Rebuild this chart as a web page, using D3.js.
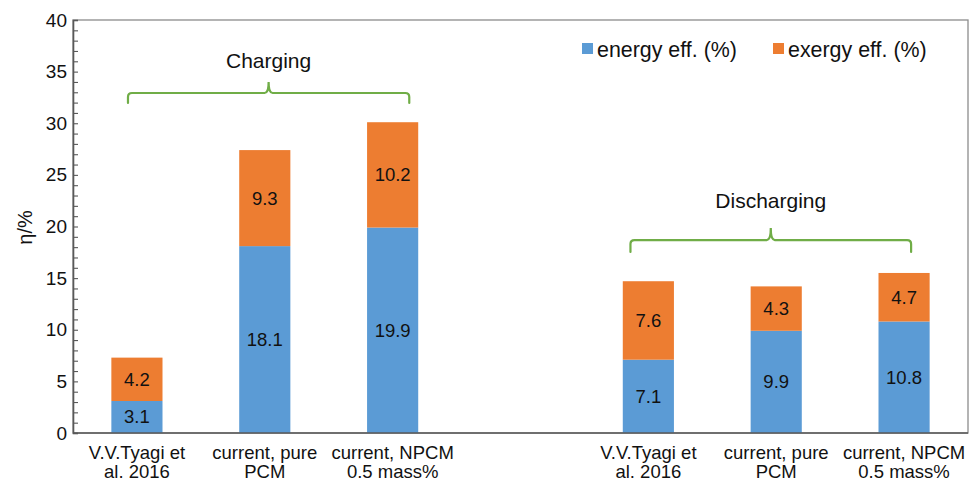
<!DOCTYPE html>
<html>
<head>
<meta charset="utf-8">
<script src="https://cdn.jsdelivr.net/npm/d3@7/dist/d3.min.js"></script>
<style>
  html, body { margin: 0; padding: 0; background: #fff; }
  svg { display: block; font-family: "Liberation Sans", Arial, Helvetica, sans-serif; }
</style>
</head>
<body>
<svg id="chart" width="979" height="482"></svg>
<script>
// Category slots (an empty slot separates the two groups)
const slots = ["tyagiC", "pureC", "npcmC", "gap", "tyagiD", "pureD", "npcmD"];
const barKeys = ["tyagiC", "pureC", "npcmC", "tyagiD", "pureD", "npcmD"];
const categoryLabels = [
  ["V.V.Tyagi et", "al. 2016"],
  ["current, pure", "PCM"],
  ["current, NPCM", "0.5 mass%"],
  ["V.V.Tyagi et", "al. 2016"],
  ["current, pure", "PCM"],
  ["current, NPCM", "0.5 mass%"]
];
const energyEff = [3.1, 18.1, 19.9, 7.1, 9.9, 10.8];
const exergyEff = [4.2, 9.3, 10.2, 7.6, 4.3, 4.7];
const seriesNames = ["energy eff. (%)", "exergy eff. (%)"];
const yTicks = [0, 5, 10, 15, 20, 25, 30, 35, 40];
const groupLabels = ["Charging", "Discharging"];
// brace spans in slot-index units, and brace/label heights in axis units
const braceSpan = [[-0.07, 2.13], [3.86, 6.055]];
const braceLevel = [32.93, 18.69];
const braceEnd = [31.96, 17.53];
const braceTip = [34.0, 19.85];
const groupLabelLevel = [35.35, 21.8];

const colors = ["#5B9BD5", "#ED7D31"];
const green = "#70AD47";

const svg = d3.select("#chart");
const plotL = 73, plotR = 968, plotT = 20, plotB = 433;

const x = d3.scaleBand().domain(slots).range([plotL, plotR]).paddingInner(0.6).paddingOuter(0.3);
const y = d3.scaleLinear().domain([0, 40]).range([plotB, plotT]);
const slotX = d3.scaleLinear().domain([0, slots.length - 1])
  .range([x(slots[0]) + x.bandwidth() / 2, x(slots[slots.length - 1]) + x.bandwidth() / 2]);

// frame
svg.append("rect")
  .attr("x", plotL).attr("y", plotT)
  .attr("width", plotR - plotL).attr("height", plotB - plotT)
  .attr("fill", "none").attr("stroke", "#8c8c8c").attr("stroke-width", 1.3);

// stacked data
const rows = barKeys.map((k, i) => ({ key: k, energy: energyEff[i], exergy: exergyEff[i] }));
const stack = d3.stack().keys(["energy", "exergy"])(rows);

const layers = svg.append("g").selectAll("g").data(stack).join("g")
  .attr("fill", (d, i) => colors[i]);

layers.selectAll("rect").data(d => d).join("rect")
  .attr("x", d => x(d.data.key))
  .attr("y", d => y(d[1]))
  .attr("width", x.bandwidth())
  .attr("height", d => y(d[0]) - y(d[1]));

// value labels
svg.append("g").selectAll("g").data(stack).join("g")
  .selectAll("text").data(d => d.map(v => ({ v, s: d.key }))).join("text")
  .attr("x", d => x(d.v.data.key) + x.bandwidth() / 2)
  .attr("y", d => (y(d.v[0]) + y(d.v[1])) / 2)
  .attr("dy", "0.35em")
  .attr("text-anchor", "middle")
  .attr("font-size", 18.5)
  .attr("fill", "#111")
  .text(d => d.v.data[d.s].toFixed(1));

// y axis with inward unit ticks
const yAxis = d3.axisLeft(y)
  .tickValues(d3.range(0, 41, 1))
  .tickSize(-5)
  .tickPadding(6)
  .tickFormat(v => yTicks.includes(v) ? String(v) : "");
const gy = svg.append("g").attr("transform", `translate(${plotL},0)`).call(yAxis);
gy.select(".domain").attr("stroke", "#595959").attr("stroke-width", 1.6);
gy.selectAll(".tick line").attr("stroke", "#595959").attr("stroke-width", 1.1);
gy.selectAll(".tick text").attr("font-size", 19).attr("fill", "#111")
  .attr("font-family", "Liberation Sans, Arial, sans-serif");

// x axis line
svg.append("line")
  .attr("x1", plotL).attr("x2", plotR).attr("y1", plotB).attr("y2", plotB)
  .attr("stroke", "#595959").attr("stroke-width", 1.6);

// category labels
const catG = svg.append("g").selectAll("text").data(barKeys).join("text")
  .attr("x", k => x(k) + x.bandwidth() / 2)
  .attr("y", 459)
  .attr("text-anchor", "middle")
  .attr("font-size", 18.5)
  .attr("fill", "#111");
catG.selectAll("tspan").data((k, i) => categoryLabels[i]).join("tspan")
  .attr("x", function () { return d3.select(this.parentNode).attr("x"); })
  .attr("dy", (d, i) => i === 0 ? 0 : 19)
  .text(d => d);

// y axis title
svg.append("text")
  .attr("transform", `translate(32,${(plotT + plotB) / 2 + 1}) rotate(-90)`)
  .attr("text-anchor", "middle")
  .attr("font-size", 20)
  .attr("fill", "#111")
  .text("η/%");

// legend
const legendX = [582, 773];
const lg = svg.append("g").selectAll("g").data(seriesNames).join("g")
  .attr("transform", (d, i) => `translate(${legendX[i]},43)`);
lg.append("rect").attr("width", 11).attr("height", 11).attr("fill", (d, i) => colors[i]);
lg.append("text").attr("x", 15).attr("y", 14).attr("font-size", 21.4).attr("fill", "#111").text(d => d);

// group braces
function bracePath(x0, x1, yl, ye, yt) {
  const xm = (x0 + x1) / 2, r = 4;
  return `M${x0},${ye} L${x0},${yl + r} Q${x0},${yl} ${x0 + r},${yl}` +
    ` L${xm - r},${yl} Q${xm},${yl} ${xm},${yt}` +
    ` Q${xm},${yl} ${xm + r},${yl} L${x1 - r},${yl} Q${x1},${yl} ${x1},${yl + r} L${x1},${ye}`;
}
groupLabels.forEach((name, i) => {
  const x0 = slotX(braceSpan[i][0]), x1 = slotX(braceSpan[i][1]);
  svg.append("path")
    .attr("d", bracePath(x0, x1, y(braceLevel[i]), y(braceEnd[i]), y(braceTip[i])))
    .attr("fill", "none").attr("stroke", green).attr("stroke-width", 2.2)
    .attr("stroke-linecap", "round");
  svg.append("text")
    .attr("x", (x0 + x1) / 2)
    .attr("y", y(groupLabelLevel[i]))
    .attr("text-anchor", "middle")
    .attr("font-size", 21)
    .attr("fill", "#111")
    .text(name);
});
</script>
</body>
</html>
